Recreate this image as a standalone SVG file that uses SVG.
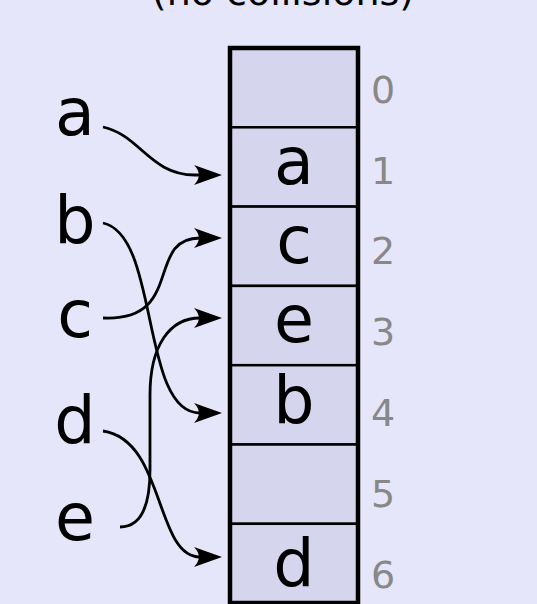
<svg xmlns="http://www.w3.org/2000/svg" width="537" height="604" viewBox="0 0 537 604">
<style>
.bg{fill:#e6e6fa}
.cell{fill:#d5d5ee;stroke:#000;stroke-width:2.5}
.outer{fill:none;stroke:#000;stroke-width:4.5}
.key{font-family:"DejaVu Sans",sans-serif;font-size:65px;fill:#000;text-anchor:middle}
.idx{font-family:"DejaVu Sans",sans-serif;font-size:38px;fill:#888;text-anchor:middle}
.title{font-family:"DejaVu Sans",sans-serif;font-size:38px;fill:#000;text-anchor:middle}
.conn{fill:none;stroke:#000;stroke-width:2.8;marker-end:url(#arr)}
</style>
<defs>
<marker id="arr" markerUnits="userSpaceOnUse" orient="auto" viewBox="-32 -13 36 26" refX="-17" refY="0" markerWidth="36" markerHeight="26">
<path d="M0,0 L-28,-10 C-21.5,-3.5 -21.5,3.5 -28,10 Z" fill="#000"/>
</marker>
</defs>
<rect class="bg" x="0" y="0" width="537" height="604"/>
<text class="title" x="283" y="5">(no collisions)</text>

<g id="table">
<g id="slot0"><rect class="cell" x="230" y="48" width="128" height="79.3"/><text class="idx" x="383" y="103">0</text></g>
<g id="slot1"><rect class="cell" x="230" y="127.3" width="128" height="79.3"/><text class="key" x="294" y="184">a</text><text class="idx" x="383" y="184">1</text></g>
<g id="slot2"><rect class="cell" x="230" y="206.6" width="128" height="79.3"/><text class="key" x="294" y="263">c</text><text class="idx" x="383" y="264">2</text></g>
<g id="slot3"><rect class="cell" x="230" y="285.9" width="128" height="79.3"/><text class="key" x="294" y="342">e</text><text class="idx" x="383" y="345">3</text></g>
<g id="slot4"><rect class="cell" x="230" y="365.2" width="128" height="79.3"/><text class="key" x="294" y="423">b</text><text class="idx" x="383" y="426">4</text></g>
<g id="slot5"><rect class="cell" x="230" y="444.5" width="128" height="79.3"/><text class="idx" x="383" y="507">5</text></g>
<g id="slot6"><rect class="cell" x="230" y="523.8" width="128" height="79.3"/><text class="key" x="294" y="586">d</text><text class="idx" x="383" y="588">6</text></g>
<rect class="outer" x="230" y="48" width="128" height="555"/>
</g>

<g id="key-a"><text class="key" x="75" y="135">a</text></g>
<g id="key-b"><text class="key" x="75" y="243">b</text></g>
<g id="key-c"><text class="key" x="75" y="337">c</text></g>
<g id="key-d"><text class="key" x="75" y="443">d</text></g>
<g id="key-e"><text class="key" x="75" y="540">e</text></g>

<g id="connectors">
<path class="conn" d="M103,127 C140,135 150,175 195,175 L205,175"/>
<path class="conn" d="M103,223 C160,235 140,413 200,413 L205,413"/>
<path class="conn" d="M103,318 C185,322 145,238 200,238 L205,238"/>
<path class="conn" d="M120,527 C142,527 150,505 150,470 L150,395 C150,345 170,318 200,318 L205,318"/>
<path class="conn" d="M103,431 C165,440 155,557 200,557 L205,557"/>
</g>
</svg>
